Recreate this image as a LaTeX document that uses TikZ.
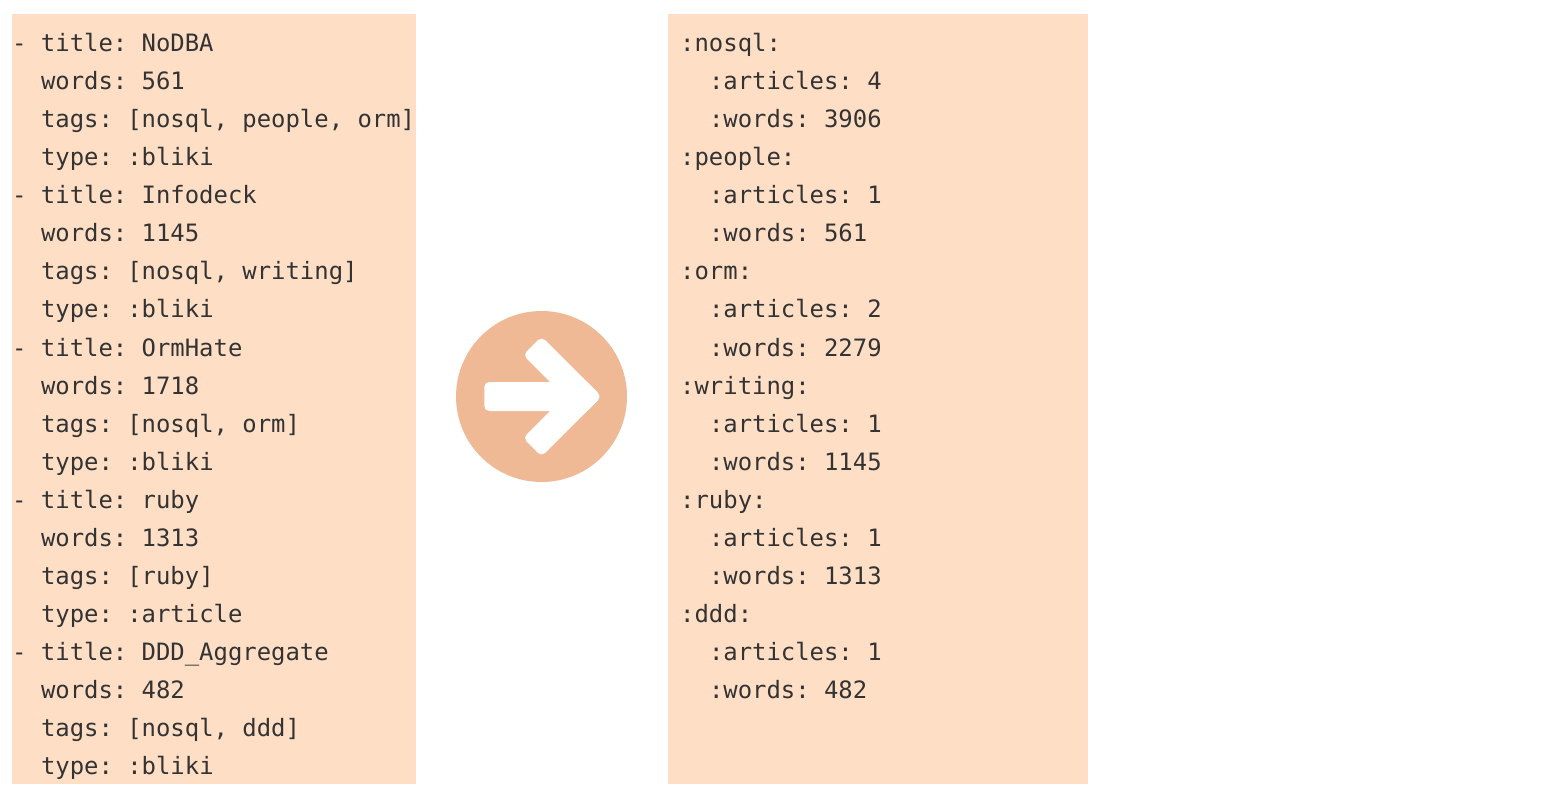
\documentclass[tikz,border=0pt]{standalone}
\usepackage{fontspec}
\newfontfamily\codefont{DejaVu Sans Mono}
\definecolor{panel}{HTML}{FEDEC5}
\definecolor{disc}{HTML}{F0B995}
\definecolor{ink}{HTML}{333333}
\tikzset{x=1pt,y=-1pt,
panelbox/.style={fill=panel,draw=none,inner sep=0,minimum width=#1,minimum height=770,anchor=north west},
discnode/.style={circle,fill=disc,draw=none,inner sep=0,minimum size=171},
arrowpart/.style={fill=white,draw=none,rounded corners=5},
codeline/.style={anchor=base west,inner sep=0,text=ink,font=\codefont\fontsize{23.9}{24}\selectfont\frenchspacing}}
\begin{document}
\begin{tikzpicture}
\useasboundingbox (0,0) rectangle (1550,802);
\node[panelbox=404] (left) at (12,14) {};
\node[panelbox=420] (right) at (668,14) {};
\node[discnode] (disc) at (541.5,396.5) {};
\fill[arrowpart] (484.3,382) rectangle (570,411);
\fill[arrowpart] (601.5,396.5) -- (541.5,336.5) -- (523,355) -- (583,415) -- cycle;
\fill[arrowpart] (601.5,396.5) -- (541.5,456.5) -- (523,438) -- (583,378) -- cycle;
\foreach \ind/\txt [count=\i from 0] in {
0/{- title: NoDBA},2/{words: 561},2/{tags: [nosql, people, orm]},2/{type: :bliki},
0/{- title: Infodeck},2/{words: 1145},2/{tags: [nosql, writing]},2/{type: :bliki},
0/{- title: OrmHate},2/{words: 1718},2/{tags: [nosql, orm]},2/{type: :bliki},
0/{- title: ruby},2/{words: 1313},2/{tags: [ruby]},2/{type: :article},
0/{- title: DDD\_Aggregate},2/{words: 482},2/{tags: [nosql, ddd]},2/{type: :bliki}}
  \node[codeline] (l\i) at ({12+14.4*\ind},{52+38*\i}) {\txt};
\foreach \ind/\txt [count=\i from 0] in {
0/{:nosql:},2/{:articles: 4},2/{:words: 3906},
0/{:people:},2/{:articles: 1},2/{:words: 561},
0/{:orm:},2/{:articles: 2},2/{:words: 2279},
0/{:writing:},2/{:articles: 1},2/{:words: 1145},
0/{:ruby:},2/{:articles: 1},2/{:words: 1313},
0/{:ddd:},2/{:articles: 1},2/{:words: 482}}
  \node[codeline] (r\i) at ({680+14.4*\ind},{52+38*\i}) {\txt};
\end{tikzpicture}
\end{document}
